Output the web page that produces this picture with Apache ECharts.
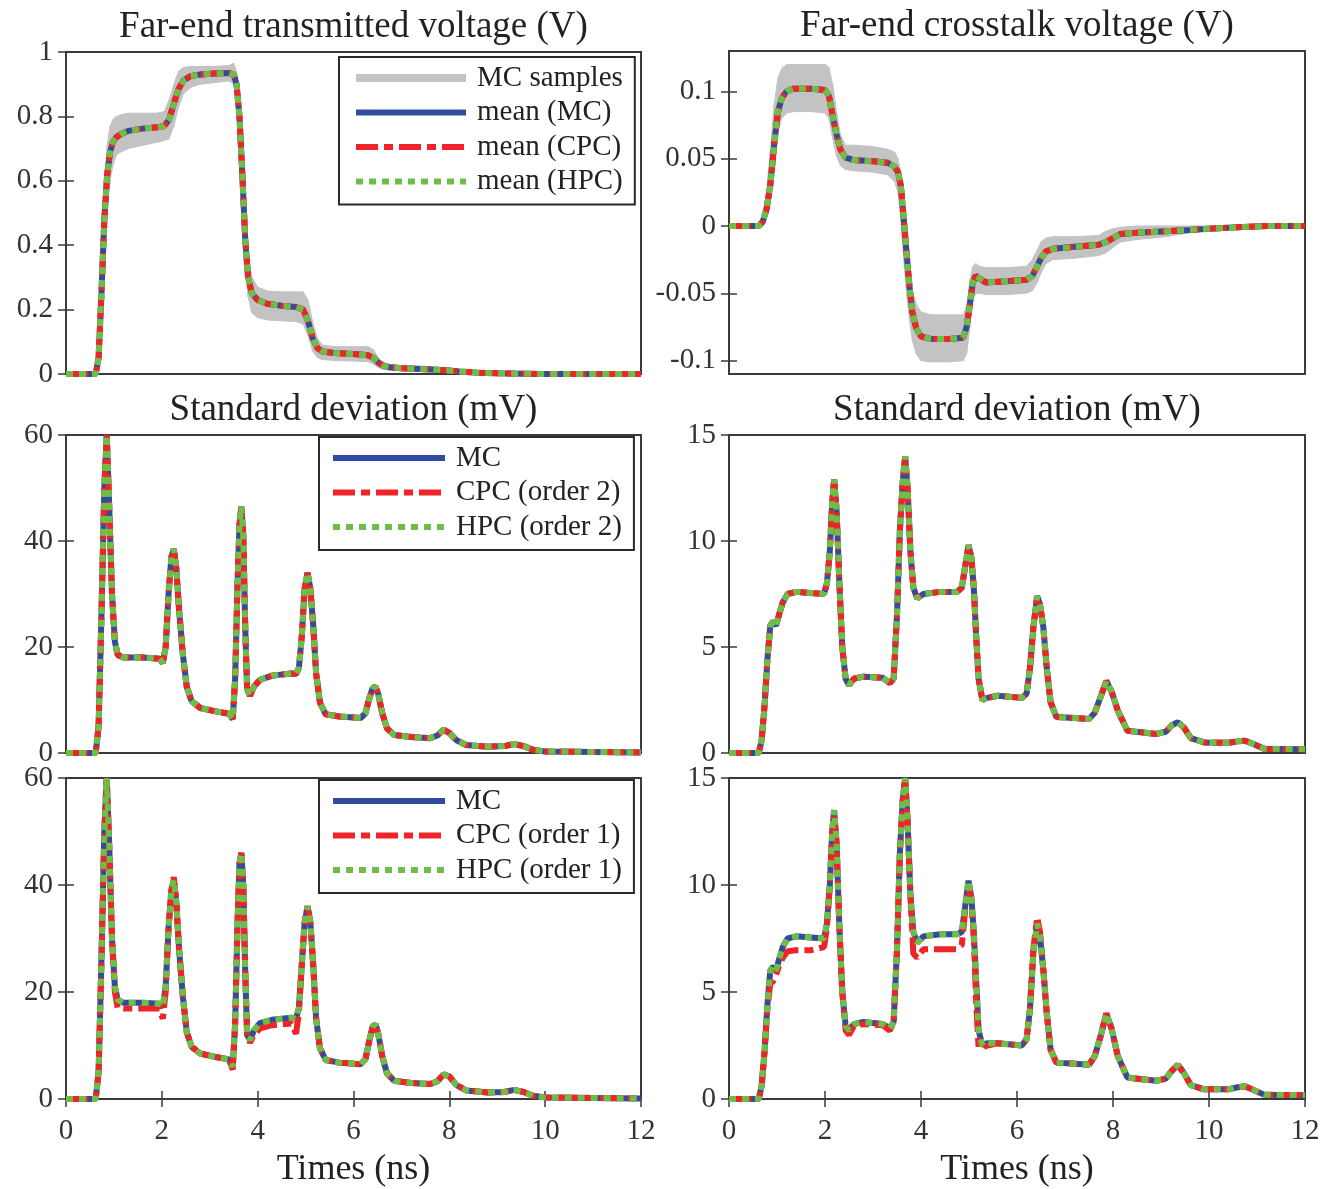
<!DOCTYPE html>
<html lang="en">
<head>
    <meta charset="UTF-8">
    <title>Far-end voltages and standard deviation</title>
    <script src="https://cdn.jsdelivr.net/npm/echarts@6/dist/echarts.min.js"></script>
</head>
<style>
html,body{margin:0;padding:0;background-color:#fff}
#chartBox{width:1323px;height:1189px}
</style>
<body>
    <div id="chartBox"></div>
</body>
<script>
// ---- far-end transmitted voltage (V) ----
const timeVolt = [0, 0.62, 0.68, 0.74, 0.8, 0.86, 0.92, 0.98, 1.05, 1.15, 1.3, 1.6, 1.9, 2.05, 2.15, 2.25, 2.35, 2.45, 2.6, 2.8,
    3.1, 3.4, 3.5, 3.56, 3.62, 3.68, 3.74, 3.8, 3.88, 4.0, 4.2, 4.5, 4.8, 4.95, 5.05, 5.15, 5.25, 5.35, 5.6, 6.0,
    6.3, 6.42, 6.52, 6.62, 6.75, 7.0, 7.5, 7.9, 8.2, 8.6, 9.0, 9.5, 10, 11, 12];
const voltMean = [0, 0, 0.05, 0.25, 0.48, 0.62, 0.69, 0.72, 0.735, 0.745, 0.755, 0.762, 0.766, 0.77, 0.79, 0.84, 0.885, 0.912, 0.925, 0.93,
    0.933, 0.935, 0.93, 0.9, 0.8, 0.62, 0.42, 0.3, 0.25, 0.23, 0.218, 0.212, 0.208, 0.2, 0.165, 0.11, 0.08, 0.07, 0.065, 0.062,
    0.058, 0.05, 0.035, 0.026, 0.021, 0.018, 0.015, 0.012, 0.008, 0.004, 0.002, 0.001, 0, 0, 0];
const voltUpper = [0, 0, 0.08, 0.33, 0.58, 0.71, 0.77, 0.79, 0.8, 0.805, 0.81, 0.81, 0.81, 0.815, 0.85, 0.9, 0.94, 0.952, 0.955, 0.955,
    0.955, 0.958, 0.965, 0.94, 0.86, 0.7, 0.5, 0.36, 0.3, 0.27, 0.258, 0.255, 0.255, 0.255, 0.23, 0.16, 0.11, 0.09, 0.085, 0.085,
    0.085, 0.075, 0.05, 0.035, 0.03, 0.027, 0.024, 0.02, 0.015, 0.008, 0.004, 0.002, 0.001, 0, 0];
const voltLower = [0, 0, 0.02, 0.17, 0.38, 0.52, 0.6, 0.65, 0.68, 0.69, 0.7, 0.71, 0.72, 0.725, 0.73, 0.77, 0.83, 0.87, 0.89, 0.9,
    0.905, 0.91, 0.9, 0.86, 0.74, 0.54, 0.34, 0.24, 0.19, 0.175, 0.168, 0.165, 0.163, 0.155, 0.12, 0.07, 0.05, 0.045, 0.042, 0.04,
    0.038, 0.03, 0.02, 0.015, 0.012, 0.01, 0.008, 0.006, 0.003, 0.001, 0, 0, 0, 0, 0];

// ---- far-end crosstalk voltage (V) ----
const timeXtalk = [0, 0.62, 0.7, 0.78, 0.86, 0.94, 1.02, 1.1, 1.2, 1.35, 1.7, 2.0, 2.08, 2.16, 2.24, 2.32, 2.42, 2.6, 3.0, 3.3,
    3.45, 3.52, 3.58, 3.64, 3.7, 3.76, 3.82, 3.9, 4.0, 4.2, 4.6, 4.88, 4.95, 5.02, 5.08, 5.14, 5.22, 5.35, 5.8, 6.2,
    6.32, 6.42, 6.5, 6.6, 6.75, 7.2, 7.7, 7.85, 8.0, 8.15, 8.5, 9.1, 9.6, 10, 10.6, 11.2, 12];
const xtalkMean = [0, 0, 0.003, 0.012, 0.03, 0.06, 0.085, 0.095, 0.1, 0.102, 0.102, 0.101, 0.097, 0.082, 0.068, 0.057, 0.051, 0.049, 0.048, 0.047,
    0.044, 0.04, 0.03, 0.005, -0.02, -0.045, -0.064, -0.076, -0.082, -0.084, -0.084, -0.083, -0.075, -0.058, -0.042, -0.037, -0.039, -0.042, -0.041, -0.040,
    -0.037, -0.03, -0.024, -0.019, -0.017, -0.0155, -0.014, -0.012, -0.009, -0.006, -0.005, -0.004, -0.003, -0.002, -0.001, 0, 0];
const xtalkUpper = [0, 0, 0.006, 0.025, 0.055, 0.09, 0.11, 0.117, 0.12, 0.12, 0.12, 0.12, 0.118, 0.105, 0.085, 0.068, 0.06, 0.06, 0.059, 0.057,
    0.055, 0.05, 0.04, 0.02, -0.005, -0.03, -0.048, -0.058, -0.064, -0.066, -0.066, -0.066, -0.06, -0.04, -0.03, -0.028, -0.03, -0.031, -0.031, -0.03,
    -0.025, -0.018, -0.012, -0.009, -0.008, -0.008, -0.007, -0.004, -0.002, -0.001, 0, 0, 0, 0, 0, 0, 0];
const xtalkLower = [0, 0, 0, 0.005, 0.02, 0.045, 0.07, 0.08, 0.084, 0.085, 0.085, 0.084, 0.08, 0.065, 0.052, 0.045, 0.042, 0.041, 0.04, 0.038,
    0.033, 0.025, 0.005, -0.025, -0.05, -0.07, -0.085, -0.095, -0.1, -0.101, -0.101, -0.1, -0.095, -0.075, -0.055, -0.05, -0.05, -0.051, -0.051, -0.05,
    -0.048, -0.042, -0.035, -0.028, -0.025, -0.024, -0.022, -0.02, -0.016, -0.012, -0.01, -0.008, -0.005, -0.003, -0.001, 0, 0];
const xtalkTicks = [-0.1, -0.05, 0, 0.05, 0.1];

// ---- standard deviation of transmitted voltage (mV) ----
const timeStdVolt = [0, 0.62, 0.68, 0.74, 0.8, 0.85, 0.9, 0.96, 1.02, 1.08, 1.2, 1.6, 1.95, 2.02, 2.08, 2.14, 2.2, 2.25, 2.3, 2.36,
    2.44, 2.52, 2.62, 2.8, 3.1, 3.4, 3.48, 3.53, 3.58, 3.62, 3.66, 3.7, 3.74, 3.78, 3.84, 3.92, 4.05, 4.3, 4.7, 4.8,
    4.86, 4.92, 4.98, 5.04, 5.1, 5.16, 5.22, 5.3, 5.42, 5.7, 6.15, 6.25, 6.32, 6.4, 6.46, 6.52, 6.6, 6.7, 6.85, 7.2,
    7.6, 7.75, 7.88, 8.0, 8.15, 8.35, 8.8, 9.15, 9.35, 9.55, 9.75, 10.0, 11, 12];
const stdVoltOrder2 = [0, 0, 5, 26, 50, 60, 47, 30, 21, 18.5, 18, 18, 17.8, 17, 20, 30, 37, 38.5, 35, 27,
    18.5, 12.5, 9.8, 8.5, 7.9, 7.4, 6.4, 14, 32, 43, 46.5, 41, 24, 12, 10.8, 12.5, 13.8, 14.6, 15, 14.9,
    16, 22, 31, 34, 31, 24, 15, 9.5, 7.3, 6.9, 6.6, 7.5, 10, 12.3, 12.5, 11, 7.5, 4.6, 3.4, 3.0,
    2.8, 3.3, 4.4, 3.8, 2.4, 1.5, 1.2, 1.3, 1.7, 1.3, 0.6, 0.3, 0.2, 0.1];
const stdVoltMC1 = [0, 0, 5, 26, 50, 60, 48, 30, 21, 18.5, 18, 18, 17.8, 17.2, 21, 32, 39, 41, 37, 28,
    19, 12.5, 9.8, 8.5, 7.9, 7.4, 6.0, 14, 33, 44, 46, 40, 24, 12, 11, 12.8, 14.2, 14.8, 15.2, 15.0,
    17, 25, 33, 36, 33, 25, 15, 9.5, 7.3, 6.8, 6.5, 7.5, 10.5, 13.5, 14, 12, 8, 4.8, 3.4, 3.0,
    2.8, 3.3, 4.6, 4.2, 2.6, 1.6, 1.2, 1.3, 1.7, 1.3, 0.6, 0.3, 0.2, 0.1];
const stdVoltCPC1 = [0, 0, 5, 26, 50, 60, 48, 30, 20, 17, 16.9, 16.9, 16.9, 15, 20, 32, 39, 41.5, 37, 28,
    19, 12.5, 9.8, 8.5, 7.9, 7.4, 5.5, 14, 33, 44, 46, 40, 24, 12, 10.5, 12, 13.2, 13.8, 14.1, 12.2,
    16, 25, 33, 36, 33, 25, 15, 9.5, 7.3, 6.8, 6.5, 7.5, 10.5, 13.5, 14, 12, 8, 4.8, 3.4, 3.0,
    2.8, 3.3, 4.6, 4.2, 2.6, 1.6, 1.2, 1.3, 1.7, 1.3, 0.6, 0.3, 0.2, 0.1];

// ---- standard deviation of crosstalk voltage (mV) ----
const timeStdXtalk = [0, 0.62, 0.68, 0.74, 0.8, 0.86, 0.92, 0.98, 1.04, 1.12, 1.22, 1.4, 1.7, 1.98, 2.04, 2.1, 2.15, 2.19, 2.24, 2.3,
    2.36, 2.43, 2.5, 2.6, 2.8, 3.2, 3.35, 3.43, 3.5, 3.56, 3.62, 3.67, 3.72, 3.78, 3.84, 3.92, 4.05, 4.4, 4.75, 4.85,
    4.92, 4.99, 5.05, 5.1, 5.15, 5.2, 5.28, 5.38, 5.6, 6.1, 6.2, 6.27, 6.34, 6.42, 6.48, 6.55, 6.62, 6.7, 6.82, 7.2,
    7.5, 7.62, 7.75, 7.86, 7.97, 8.1, 8.3, 8.9, 9.1, 9.22, 9.35, 9.48, 9.62, 9.9, 10.4, 10.6, 10.75, 10.9, 11.15, 12];
const stdXtalkOrder2 = [0, 0, 0.6, 2.2, 4.4, 6.0, 6.2, 6.0, 6.5, 7.1, 7.5, 7.6, 7.55, 7.5, 8.0, 9.5, 11.8, 12.9, 11.5, 8.0,
    5.0, 3.5, 3.2, 3.5, 3.6, 3.55, 3.3, 3.5, 6.5, 10.5, 12.8, 14.0, 12.5, 9.5, 7.8, 7.3, 7.5, 7.6, 7.6, 7.8,
    8.8, 9.8, 9.2, 7.8, 5.5, 3.5, 2.5, 2.6, 2.7, 2.6, 2.8, 4.0, 5.9, 7.4, 7.0, 5.9, 4.0, 2.4, 1.7, 1.65,
    1.6, 1.9, 2.7, 3.4, 2.9, 2.0, 1.05, 0.9, 1.0, 1.3, 1.45, 1.2, 0.7, 0.5, 0.48, 0.55, 0.58, 0.45, 0.2, 0.18];
const stdXtalkMC1 = [0, 0, 0.6, 2.2, 4.4, 6.0, 6.2, 6.0, 6.5, 7.1, 7.5, 7.6, 7.55, 7.5, 8.2, 10, 12.5, 13.5, 12, 8.0,
    5.0, 3.4, 3.2, 3.5, 3.6, 3.5, 3.3, 3.6, 7, 11.5, 14, 15.0, 13, 9.5, 7.8, 7.3, 7.6, 7.7, 7.7, 7.8,
    9, 10.2, 9.4, 7.8, 5.5, 3.2, 2.5, 2.6, 2.6, 2.5, 2.8, 4.2, 6.8, 8.2, 7.6, 6.0, 4.0, 2.3, 1.7, 1.65,
    1.6, 2.0, 3.0, 4.0, 3.3, 2.0, 1.0, 0.85, 0.95, 1.3, 1.6, 1.2, 0.65, 0.45, 0.45, 0.55, 0.6, 0.45, 0.2, 0.18];
const stdXtalkCPC1 = [0, 0, 0.6, 2.2, 4.2, 5.4, 5.5, 5.8, 6.2, 6.6, 6.9, 6.95, 6.95, 7.1, 8.0, 10, 12.5, 13.2, 12, 8.0,
    5.0, 3.2, 3.0, 3.4, 3.5, 3.45, 3.2, 3.6, 7, 11.5, 14, 15.0, 13, 9.5, 6.8, 6.6, 7.0, 7.0, 7.0, 7.2,
    8.8, 10, 9.2, 7.5, 4.5, 2.4, 2.4, 2.5, 2.6, 2.5, 2.8, 4.2, 7.0, 8.5, 7.8, 6.0, 4.0, 2.3, 1.7, 1.65,
    1.6, 2.0, 3.0, 4.0, 3.3, 2.0, 1.0, 0.85, 0.95, 1.3, 1.6, 1.2, 0.65, 0.45, 0.45, 0.55, 0.6, 0.45, 0.2, 0.18];

const panelTitles = ['Far-end transmitted voltage (V)', 'Far-end crosstalk voltage (V)',
    'Standard deviation (mV)', 'Standard deviation (mV)', '', ''];

// 样式
const FONT = 'Liberation Serif';
const BLUE = '#2f4c9f', RED = '#ee2428', GREEN = '#6dbd46', GRAY = '#c3c3c3', FRAME = '#3a3a3a';
const DASH_DOT = [22, 6, 9, 6];
const DOTS = [7, 6];

const grids = [
    {left: 66, top: 52, width: 575, height: 322},
    {left: 729, top: 51, width: 576, height: 323},
    {left: 66, top: 435, width: 575, height: 318},
    {left: 729, top: 435, width: 576, height: 318},
    {left: 66, top: 778, width: 575, height: 323},
    {left: 729, top: 778, width: 576, height: 323}
];
const yRanges = [
    {min: 0, max: 1, interval: 0.2},
    {min: -0.11, max: 0.13, ticks: xtalkTicks},
    {min: 0, max: 60, interval: 20},
    {min: 0, max: 15, interval: 5},
    {min: 0, max: 60, interval: 20},
    {min: 0, max: 15, interval: 5}
];

function pairs(t, v) {
    return t.map((x, i) => [x, v[i]]);
}

function curve(name, idx, t, v, color, type) {
    return {
        type: 'line', name: name, xAxisIndex: idx, yAxisIndex: idx,
        data: pairs(t, v), symbol: 'none', clip: false, silent: true,
        color: color,
        lineStyle: {color: color, width: 6, type: type || 'solid'}
    };
}

// 灰色包络带 (MC samples)：每一段画成一个四边形
function band(idx, t, lower, upper) {
    let segs = t.slice(0, -1).map((x, i) => [x, lower[i], upper[i], t[i + 1], lower[i + 1], upper[i + 1]]);
    return [
        {
            type: 'custom', name: 'MC samples band', xAxisIndex: idx, yAxisIndex: idx,
            silent: true, data: segs,
            encode: {x: [0, 3], y: [1, 2, 4, 5]},
            renderItem: function (params, api) {
                let pts = [
                    api.coord([api.value(0), api.value(1)]),
                    api.coord([api.value(3), api.value(4)]),
                    api.coord([api.value(3), api.value(5)]),
                    api.coord([api.value(0), api.value(2)])
                ];
                return {type: 'polygon', shape: {points: pts}, style: {fill: GRAY, stroke: GRAY, lineWidth: 1}};
            }
        },
        // 图例用的灰线
        {
            type: 'line', name: 'MC samples', xAxisIndex: idx, yAxisIndex: idx,
            data: [], symbol: 'none', silent: true, color: GRAY,
            lineStyle: {color: GRAY, width: 8}
        }
    ];
}

function tickStyle(show) {
    return {show: show, inside: true, length: 8, lineStyle: {color: FRAME, width: 1.5}};
}

function legendBox(left, top, padLeft, itemWidth, items) {
    return {
        orient: 'vertical', left: left, top: top,
        itemWidth: itemWidth, itemHeight: 14, itemGap: 4.5,
        padding: [6, 12, 8, padLeft],
        borderColor: '#2a2a2a', borderWidth: 2, backgroundColor: '#fff',
        selectedMode: false,
        itemStyle: {opacity: 0},
        textStyle: {fontFamily: FONT, fontSize: 29, lineHeight: 30, color: '#222', padding: [0, 0, 0, 6]},
        data: items
    };
}

function item(name, color, type, width) {
    return {name: name, lineStyle: {color: color, type: type, width: width || 6}};
}

function generateChartOption() {
    let xAxis = [], yAxis = [];
    grids.forEach((g, i) => {
        let bottomRow = i >= 4;
        xAxis.push({
            gridIndex: i, type: 'value', min: 0, max: 12, interval: 2,
            axisLine: {show: false}, splitLine: {show: false},
            axisTick: tickStyle(bottomRow),
            axisLabel: {show: bottomRow, margin: 18, fontFamily: FONT, fontSize: 29, color: '#333'},
            name: bottomRow ? 'Times (ns)' : '', nameLocation: 'middle', nameGap: 53,
            nameTextStyle: {fontFamily: FONT, fontSize: 36, color: '#222'}
        });
    });
    grids.forEach((g, i) => {
        xAxis.push({
            gridIndex: i, type: 'value', position: 'top', min: 0, max: 12, interval: 2,
            axisLine: {show: false}, splitLine: {show: false},
            axisTick: tickStyle(i >= 4), axisLabel: {show: false},
            name: panelTitles[i], nameLocation: 'middle', nameGap: 6,
            nameTextStyle: {fontFamily: FONT, fontSize: 37, color: '#222'}
        });
    });
    [false, true].forEach(mirror => {
        grids.forEach((g, i) => {
            let r = yRanges[i];
            let tick = tickStyle(true);
            let label = {show: !mirror, margin: 13, fontFamily: FONT, fontSize: 29, color: '#333'};
            if (r.ticks) {
                tick.customValues = r.ticks;
                label.customValues = r.ticks;
            }
            yAxis.push({
                gridIndex: i, type: 'value', position: mirror ? 'right' : 'left',
                min: r.min, max: r.max, interval: r.interval,
                axisLine: {show: false}, splitLine: {show: false},
                axisTick: tick, axisLabel: label
            });
        });
    });

    let series = [].concat(
        band(0, timeVolt, voltLower, voltUpper),
        [curve('mean (MC)', 0, timeVolt, voltMean, BLUE),
         curve('mean (CPC)', 0, timeVolt, voltMean, RED, DASH_DOT),
         curve('mean (HPC)', 0, timeVolt, voltMean, GREEN, DOTS)],
        band(1, timeXtalk, xtalkLower, xtalkUpper),
        [curve('mean (MC)', 1, timeXtalk, xtalkMean, BLUE),
         curve('mean (CPC)', 1, timeXtalk, xtalkMean, RED, DASH_DOT),
         curve('mean (HPC)', 1, timeXtalk, xtalkMean, GREEN, DOTS),
         curve('MC', 2, timeStdVolt, stdVoltOrder2, BLUE),
         curve('CPC (order 2)', 2, timeStdVolt, stdVoltOrder2, RED, DASH_DOT),
         curve('HPC (order 2)', 2, timeStdVolt, stdVoltOrder2, GREEN, DOTS),
         curve('MC', 3, timeStdXtalk, stdXtalkOrder2, BLUE),
         curve('CPC (order 2)', 3, timeStdXtalk, stdXtalkOrder2, RED, DASH_DOT),
         curve('HPC (order 2)', 3, timeStdXtalk, stdXtalkOrder2, GREEN, DOTS),
         curve('MC', 4, timeStdVolt, stdVoltMC1, BLUE),
         curve('CPC (order 1)', 4, timeStdVolt, stdVoltCPC1, RED, DASH_DOT),
         curve('HPC (order 1)', 4, timeStdVolt, stdVoltMC1, GREEN, DOTS),
         curve('MC', 5, timeStdXtalk, stdXtalkMC1, BLUE),
         curve('CPC (order 1)', 5, timeStdXtalk, stdXtalkCPC1, RED, DASH_DOT),
         curve('HPC (order 1)', 5, timeStdXtalk, stdXtalkMC1, GREEN, DOTS)]
    );

    return {
        animation: false,
        backgroundColor: '#fff',
        grid: grids.map(g => Object.assign({show: true, borderColor: FRAME, borderWidth: 2, backgroundColor: 'transparent'}, g)),
        xAxis: xAxis,
        yAxis: yAxis,
        legend: [
            legendBox(339, 57, 13, 110, [
                item('MC samples', GRAY, 'solid', 8),
                item('mean (MC)', BLUE, 'solid'),
                item('mean (CPC)', RED, DASH_DOT),
                item('mean (HPC)', GREEN, DOTS)
            ]),
            legendBox(319, 437, 11, 112, [
                item('MC', BLUE, 'solid'),
                item('CPC (order 2)', RED, DASH_DOT),
                item('HPC (order 2)', GREEN, DOTS)
            ]),
            legendBox(319, 780, 11, 112, [
                item('MC', BLUE, 'solid'),
                item('CPC (order 1)', RED, DASH_DOT),
                item('HPC (order 1)', GREEN, DOTS)
            ])
        ],
        series: series
    };
}

let chartObj = echarts.init(document.getElementById('chartBox'));
chartObj.setOption(generateChartOption());
</script>
</html>
